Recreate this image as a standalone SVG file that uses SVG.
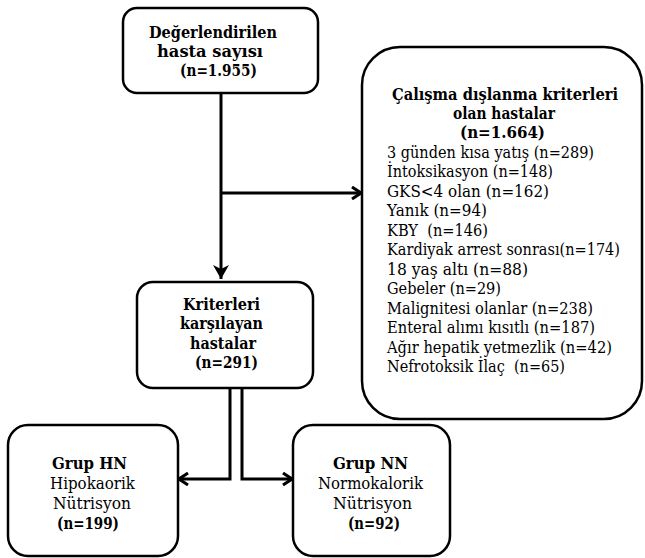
<svg xmlns="http://www.w3.org/2000/svg" width="645" height="558" viewBox="0 0 645 558">
<style>
.box{fill:#fff;stroke:#000;stroke-width:2.5}
.line{fill:none;stroke:#000;stroke-width:3}
text{font-family:"DejaVu Serif",serif;font-size:16px;fill:#000}
.b{font-weight:bold}
</style>
<defs>
<marker id="chev" viewBox="0 0 12 14" refX="11" refY="7" markerWidth="12" markerHeight="14" markerUnits="userSpaceOnUse" orient="auto">
<path d="M2,1 L11,7 L2,13" fill="none" stroke="#000" stroke-width="3"/>
</marker>
<marker id="tri" viewBox="0 0 14 16" refX="14" refY="8" markerWidth="14" markerHeight="16" markerUnits="userSpaceOnUse" orient="auto">
<path d="M0,0 L14,8 L0,16 L4,8 Z" fill="#000"/>
</marker>
</defs>
<g id="connectors">
<path class="line" d="M221,93 V279" marker-end="url(#tri)"/>
<path class="line" d="M221,193 H361" marker-end="url(#chev)"/>
<path class="line" d="M230,388 V479 H179" marker-end="url(#chev)"/>
<path class="line" d="M242,388 V479 H292" marker-end="url(#chev)"/>
</g>
<g id="n1">
<rect class="box" x="123" y="8" width="195" height="85" rx="14"/>
<text class="b" x="149" y="38" textLength="128" lengthAdjust="spacingAndGlyphs">Değerlendirilen</text>
<text class="b" x="157" y="57" textLength="106" lengthAdjust="spacingAndGlyphs">hasta sayısı</text>
<text class="b" x="180" y="76" textLength="77" lengthAdjust="spacingAndGlyphs">(n=1.955)</text>
</g>
<g id="n2">
<rect class="box" x="362" y="47" width="280" height="372" rx="38"/>
<text class="b" x="392" y="100" textLength="226" lengthAdjust="spacingAndGlyphs">Çalışma dışlanma kriterleri</text>
<text class="b" x="453" y="119" textLength="102" lengthAdjust="spacingAndGlyphs">olan hastalar</text>
<text class="b" x="460" y="138" textLength="85" lengthAdjust="spacingAndGlyphs">(n=1.664)</text>
<text x="387" y="158" textLength="207" lengthAdjust="spacingAndGlyphs">3 günden kısa yatış (n=289)</text>
<text x="387" y="177" textLength="166" lengthAdjust="spacingAndGlyphs">İntoksikasyon (n=148)</text>
<text x="387" y="197" textLength="162" lengthAdjust="spacingAndGlyphs">GKS&lt;4 olan (n=162)</text>
<text x="387" y="216" textLength="100" lengthAdjust="spacingAndGlyphs">Yanık (n=94)</text>
<text x="387" y="236" textLength="101" lengthAdjust="spacingAndGlyphs" xml:space="preserve">KBY  (n=146)</text>
<text x="387" y="255" textLength="233" lengthAdjust="spacingAndGlyphs">Kardiyak arrest sonrası(n=174)</text>
<text x="387" y="275" textLength="141" lengthAdjust="spacingAndGlyphs">18 yaş altı (n=88)</text>
<text x="387" y="294" textLength="114" lengthAdjust="spacingAndGlyphs">Gebeler (n=29)</text>
<text x="387" y="314" textLength="206" lengthAdjust="spacingAndGlyphs">Malignitesi olanlar (n=238)</text>
<text x="387" y="333" textLength="208" lengthAdjust="spacingAndGlyphs">Enteral alımı kısıtlı (n=187)</text>
<text x="387" y="353" textLength="225" lengthAdjust="spacingAndGlyphs">Ağır hepatik yetmezlik (n=42)</text>
<text x="387" y="372" textLength="178" lengthAdjust="spacingAndGlyphs" xml:space="preserve">Nefrotoksik İlaç  (n=65)</text>
</g>
<g id="n3">
<rect class="box" x="137" y="282" width="176" height="106" rx="16"/>
<text class="b" x="183" y="310" textLength="77" lengthAdjust="spacingAndGlyphs">Kriterleri</text>
<text class="b" x="180" y="329" textLength="83" lengthAdjust="spacingAndGlyphs">karşılayan</text>
<text class="b" x="190" y="349" textLength="66" lengthAdjust="spacingAndGlyphs">hastalar</text>
<text class="b" x="195" y="368" textLength="63" lengthAdjust="spacingAndGlyphs">(n=291)</text>
</g>
<g id="n4">
<rect class="box" x="8" y="425" width="170" height="131" rx="20"/>
<text class="b" x="52" y="469" textLength="75" lengthAdjust="spacingAndGlyphs">Grup HN</text>
<text x="50" y="489" textLength="85" lengthAdjust="spacingAndGlyphs">Hipokaorik</text>
<text x="53" y="509" textLength="78" lengthAdjust="spacingAndGlyphs">Nütrisyon</text>
<text class="b" x="57" y="529" textLength="62" lengthAdjust="spacingAndGlyphs">(n=199)</text>
</g>
<g id="n5">
<rect class="box" x="293" y="425" width="157" height="131" rx="20"/>
<text class="b" x="333" y="469" textLength="75" lengthAdjust="spacingAndGlyphs">Grup NN</text>
<text x="318" y="489" textLength="105" lengthAdjust="spacingAndGlyphs">Normokalorik</text>
<text x="333" y="509" textLength="79" lengthAdjust="spacingAndGlyphs">Nütrisyon</text>
<text class="b" x="348" y="529" textLength="52" lengthAdjust="spacingAndGlyphs">(n=92)</text>
</g>
</svg>
